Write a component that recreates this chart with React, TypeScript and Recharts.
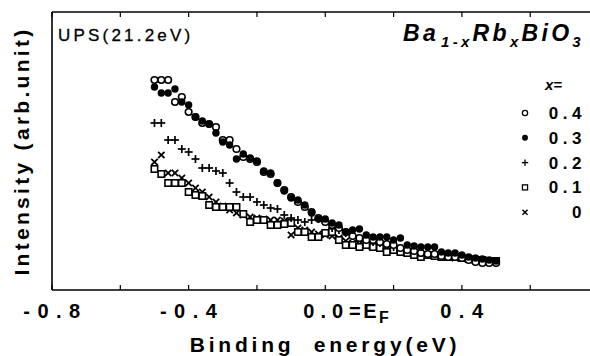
import { ScatterChart, Scatter, XAxis, YAxis } from "recharts";

// binding energy (eV) of each sample point, relative to E_F
const energies = [
  -0.5, -0.48, -0.46, -0.44, -0.42, -0.4, -0.38, -0.36, -0.34, -0.32, -0.3,
  -0.28, -0.26, -0.24, -0.22, -0.2, -0.18, -0.16, -0.14, -0.12, -0.1, -0.08,
  -0.06, -0.04, -0.02, 0, 0.02, 0.04, 0.06, 0.08, 0.1, 0.12, 0.14, 0.16, 0.18,
  0.2, 0.22, 0.24, 0.26, 0.28, 0.3, 0.32, 0.34, 0.36, 0.38, 0.4, 0.42, 0.44,
  0.46, 0.48, 0.5,
];

// intensities (arb. unit)
const x04 = [
  210, 210, 210, 188, 193, 178, 173, 167, 166, 163, 150, 150, 141, 133, 131,
  128, 118, 116, 107, 100, 93, 88, 83, 78, 72, 68, 65, 62, 58, 54, 52, 50, 50,
  48, 46, 45, 42, 40, 39, 37, 36, 36, 34, 33, 33, 32, 30, 28, 27, 27, 27,
];
const x03 = [
  203, 197, 197, 201, 188, 185, 173, 169, 166, 157, 148, 145, 131, 136, 132,
  129, 119, 117, 107, 99, 92, 90, 85, 77, 71, 71, 67, 65, 58, 60, 61, 55, 53,
  53, 53, 50, 52, 45, 44, 43, 43, 43, 38, 37, 37, 35, 33, 32, 31, 30, 29,
];
const x02 = [
  167, 167, 150, 150, 141, 138, 131, 122, 122, 119, 117, 107, 98, 93, 93, 88,
  85, 82, 81, 75, 72, 70, 68, 70, 71, 68, 62, 60, 57, 54, 52, 50, 48, 47, 45,
  43, 42, 40, 39, 38, 37, 36, 35, 34, 33, 32, 31, 30, 29, 28, 28,
];
const x01 = [
  121, 116, 107, 107, 107, 98, 95, 94, 85, 83, 83, 83, 83, 76, 68, 70, 70, 65,
  65, 66, 67, 58, 58, 53, 53, 57, 58, 50, 45, 45, 43, 45, 43, 42, 38, 40, 38,
  37, 35, 33, 35, 34, 33, 33, 33, 32, 31, 30, 30, 29, 29,
];
const x00 = [
  128, 135, 117, 117, 112, 107, 102, 98, 93, 88, 84, 80, 77, 75, 73, 72, 71,
  70, 70, 69, 55, 62, 60, 58, 56, 55, 54, 52, 49, 47, 46, 44, 43, 42, 41, 40,
  39, 38, 37, 36, 35, 34, 34, 33, 32, 32, 31, 30, 30, 29, 29,
];

const xTicks = [-0.8, -0.6, -0.4, -0.2, 0, 0.2, 0.4, 0.6];
const legendLabels = ["0.4", "0.3", "0.2", "0.1", "0"];

const font = '"Liberation Sans", Arial, sans-serif';

const toPoints = (vals: number[]) =>
  energies.map((e, i) => ({ e, v: vals[i] }));

type ShapeProps = { cx?: number; cy?: number };

const OpenCircle = ({ cx = 0, cy = 0 }: ShapeProps) => (
  <circle cx={cx} cy={cy} r={3.3} fill="#fff" stroke="#000" strokeWidth={1.6} />
);
const Dot = ({ cx = 0, cy = 0 }: ShapeProps) => (
  <circle cx={cx} cy={cy} r={3.7} fill="#000" />
);
const Plus = ({ cx = 0, cy = 0 }: ShapeProps) => (
  <g stroke="#000" strokeWidth={1.7}>
    <line x1={cx - 4} x2={cx + 4} y1={cy} y2={cy} />
    <line x1={cx} x2={cx} y1={cy - 4} y2={cy + 4} />
  </g>
);
const Square = ({ cx = 0, cy = 0 }: ShapeProps) => (
  <rect x={cx - 3.2} y={cy - 3.2} width={6.4} height={6.4} fill="#fff" stroke="#000" strokeWidth={1.6} />
);
const Cross = ({ cx = 0, cy = 0 }: ShapeProps) => (
  <g stroke="#000" strokeWidth={1.8}>
    <line x1={cx - 3.2} x2={cx + 3.2} y1={cy - 3.2} y2={cy + 3.2} />
    <line x1={cx - 3.2} x2={cx + 3.2} y1={cy + 3.2} y2={cy - 3.2} />
  </g>
);

const legendShapes = [OpenCircle, Dot, Plus, Square, Cross];

const BottomTick = (props: any) => {
  const { x, y, payload } = props;
  const v = payload.value;
  const tickLabel = {
    fontFamily: font,
    fontWeight: 700,
    fontSize: 20,
    fill: "#000",
  };
  let label = null;
  if (v === 0) {
    label = (
      <text x={x - 22} y={y + 28} style={tickLabel} letterSpacing={6}>
        0.0
        <tspan letterSpacing={2.5}>=E</tspan>
        <tspan fontSize={16} dy={5}>F</tspan>
      </text>
    );
  } else if (Math.abs(v + 0.8) < 1e-6 || Math.abs(Math.abs(v) - 0.4) < 1e-6) {
    label = (
      <text x={x + 3.5} y={y + 28} textAnchor="middle" style={tickLabel} letterSpacing={7.5}>
        {v.toFixed(1)}
      </text>
    );
  }
  return (
    <g>
      <line x1={x} x2={x} y1={y} y2={y - 5} stroke="#000" strokeWidth={1.2} />
      {label}
    </g>
  );
};

const TopTick = (props: any) => {
  const { x, y } = props;
  return <line x1={x} x2={x} y1={y} y2={y + 5} stroke="#000" strokeWidth={1.2} />;
};

export default function App() {
  return (
    <div style={{ position: "absolute", left: 0, top: 0, width: 590, height: 356, background: "#fff" }}>
      <ScatterChart width={590} height={356} margin={{ top: 11, right: 0, bottom: 65, left: 51 }}>
        <XAxis
          xAxisId="b"
          type="number"
          dataKey="e"
          domain={[-0.8, 0.775]}
          ticks={xTicks}
          interval={0}
          allowDataOverflow
          height={1}
          tickSize={0}
          tickMargin={0}
          tickLine={false}
          tick={<BottomTick />}
          axisLine={{ stroke: "#000", strokeWidth: 1.6 }}
        />
        <XAxis
          xAxisId="t"
          orientation="top"
          type="number"
          dataKey="e"
          domain={[-0.8, 0.775]}
          ticks={xTicks}
          interval={0}
          allowDataOverflow
          height={1}
          tickSize={0}
          tickMargin={0}
          tickLine={false}
          tick={<TopTick />}
          axisLine={{ stroke: "#000", strokeWidth: 1.3 }}
        />
        <YAxis
          type="number"
          dataKey="v"
          domain={[0, 278]}
          allowDataOverflow
          width={1}
          tick={false}
          tickLine={false}
          axisLine={{ stroke: "#000", strokeWidth: 1.6 }}
        />
        <Scatter xAxisId="b" data={toPoints(x00)} shape={Cross} isAnimationActive={false} />
        <Scatter xAxisId="b" data={toPoints(x01)} shape={Square} isAnimationActive={false} />
        <Scatter xAxisId="b" data={toPoints(x02)} shape={Plus} isAnimationActive={false} />
        <Scatter xAxisId="b" data={toPoints(x04)} shape={OpenCircle} isAnimationActive={false} />
        <Scatter xAxisId="b" data={toPoints(x03)} shape={Dot} isAnimationActive={false} />
      </ScatterChart>
      <svg
        width={590}
        height={356}
        style={{ position: "absolute", left: 0, top: 0, pointerEvents: "none" }}
        fontFamily={font}
      >
        <text x={58} y={41} fontSize={17} letterSpacing={3.2} fill="#000" stroke="#000" strokeWidth={0.3}>
          UPS(21.2eV)
        </text>
        <text x={403} y={41} fontSize={23} fontWeight={700} fontStyle="italic" letterSpacing={3.3} fill="#000">
          Ba
          <tspan fontSize={15} dy={6} dx={2}>1-x</tspan>
          <tspan dy={-6}>Rb</tspan>
          <tspan fontSize={15} dy={6}>x</tspan>
          <tspan dy={-6}>BiO</tspan>
          <tspan fontSize={15} dy={6}>3</tspan>
        </text>
        <text x={545} y={90} fontSize={15} fontWeight={700} fontStyle="italic" fill="#000">
          x=
        </text>
        {legendLabels.map((lab, i) => {
          const Shape = legendShapes[i];
          const cy = 113 + i * 24.8;
          return (
            <g key={lab}>
              <g transform={`scale(0.8) translate(${525 / 0.8 - 525},${cy / 0.8 - cy})`}>
                <Shape cx={525} cy={cy} />
              </g>
              <text x={586} y={cy + 6} textAnchor="end" fontSize={17} fontWeight={700} letterSpacing={4.5} fill="#000">
                {lab}
              </text>
            </g>
          );
        })}
        <text x={325} y={352} textAnchor="middle" fontSize={21} fontWeight={700} letterSpacing={3.8} fill="#000" xmlSpace="preserve">
          Binding  energy(eV)
        </text>
        <text
          transform="translate(29,151) rotate(-90)"
          textAnchor="middle"
          fontSize={21}
          fontWeight={700}
          letterSpacing={3.3}
          fill="#000"
        >
          Intensity (arb.unit)
        </text>
      </svg>
    </div>
  );
}
